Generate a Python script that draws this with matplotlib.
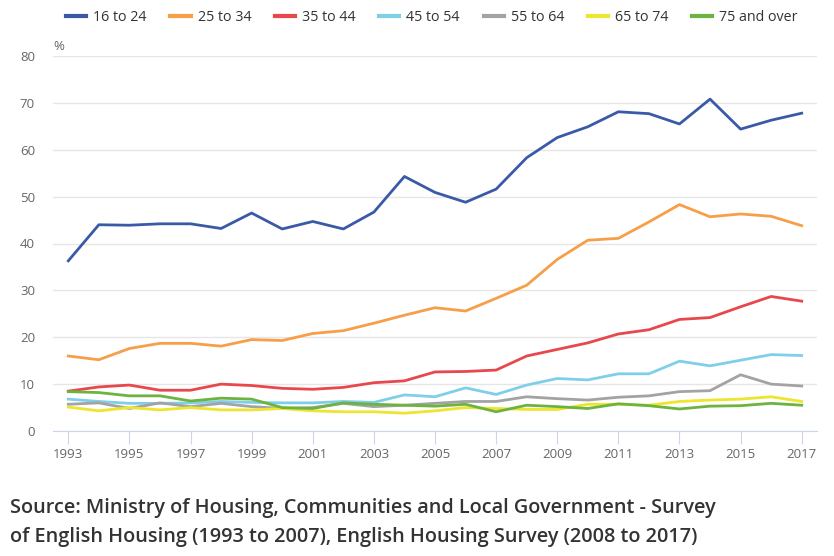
import matplotlib.pyplot as plt

plt.rcParams['font.family'] = ['Open Sans', 'DejaVu Sans']

years = list(range(1993, 2018))

# % of each age group renting privately
age_16_24 = [36.3, 44.0, 43.9, 44.2, 44.2, 43.2, 46.5, 43.1, 44.7, 43.1, 46.7, 54.3, 50.9,
             48.8, 51.6, 58.3, 62.6, 64.9, 68.1, 67.7, 65.5, 70.8, 64.4, 66.3, 67.8]
age_25_34 = [16.0, 15.2, 17.6, 18.7, 18.7, 18.1, 19.5, 19.3, 20.8, 21.4, 23.0, 24.7, 26.3,
             25.6, 28.3, 31.1, 36.6, 40.7, 41.1, 44.6, 48.3, 45.7, 46.3, 45.8, 43.8]
age_35_44 = [8.5, 9.4, 9.8, 8.7, 8.7, 10.0, 9.7, 9.1, 8.9, 9.3, 10.3, 10.7, 12.6,
             12.7, 13.0, 16.0, 17.4, 18.8, 20.7, 21.6, 23.8, 24.2, 26.5, 28.7, 27.7]
age_45_54 = [6.8, 6.3, 5.9, 5.9, 6.0, 6.3, 6.1, 6.0, 6.0, 6.3, 6.1, 7.7, 7.3,
             9.2, 7.8, 9.8, 11.2, 10.9, 12.2, 12.2, 14.9, 13.9, 15.1, 16.3, 16.1]
age_55_64 = [5.7, 6.0, 4.8, 6.0, 5.2, 5.9, 5.2, 4.8, 5.0, 5.9, 5.2, 5.5, 5.9,
             6.3, 6.3, 7.3, 6.9, 6.6, 7.2, 7.5, 8.4, 8.6, 12.0, 10.0, 9.6]
age_65_74 = [5.1, 4.3, 5.0, 4.5, 5.0, 4.5, 4.5, 4.8, 4.3, 4.1, 4.1, 3.8, 4.3,
             5.0, 4.8, 4.6, 4.6, 5.7, 5.7, 5.5, 6.3, 6.6, 6.8, 7.3, 6.3]
age_75_over = [8.4, 8.2, 7.5, 7.5, 6.4, 7.0, 6.8, 5.0, 4.8, 6.0, 5.7, 5.5, 5.3,
               5.7, 4.1, 5.5, 5.2, 4.8, 5.8, 5.4, 4.7, 5.3, 5.4, 5.9, 5.5]

series = [
    ('16 to 24', age_16_24, '#3a5aa8'),
    ('25 to 34', age_25_34, '#f79f48'),
    ('35 to 44', age_35_44, '#e8474c'),
    ('45 to 54', age_45_54, '#80cfe9'),
    ('55 to 64', age_55_64, '#a3a3a3'),
    ('65 to 74', age_65_74, '#ede52f'),
    ('75 and over', age_75_over, '#6db33f'),
]

fig = plt.figure(figsize=(8.34, 5.56), dpi=100)
ax = fig.add_axes([53 / 834, 1 - 431 / 556, 764 / 834, 375 / 556])

for name, vals, col in series:
    ax.plot(years, vals, color=col, lw=2, label=name, solid_joinstyle='round')

ax.set_xlim(1992.5, 2017.5)
ax.set_ylim(0, 80)
ax.set_yticks(range(0, 81, 10))
ax.set_xticks(range(1993, 2018, 2))
ax.grid(axis='y', color='#e6e6e6', lw=1)
ax.set_axisbelow(True)
for s in ['top', 'right', 'left']:
    ax.spines[s].set_visible(False)
ax.spines['bottom'].set_color('#ccd6eb')
ax.tick_params(axis='y', length=0, pad=13, labelsize=9.5, labelcolor='#666666')
ax.tick_params(axis='x', length=9, color='#ccd6eb', pad=3, labelsize=9.5, labelcolor='#666666')

ax.text(0.0, 1.025, '%', transform=ax.transAxes, fontsize=9.5, color='#666666', va='center')

fig.legend(loc='upper center', bbox_to_anchor=(0.518, 1.005), ncol=7, frameon=False,
           fontsize=10.3, handlelength=1.4, handletextpad=0.5, columnspacing=1.65,
           labelcolor='#333333')
for line in fig.legends[0].get_lines():
    line.set_linewidth(3)

fig.text(0.012, 1 - 508 / 556, 'Source: Ministry of Housing, Communities and Local Government - Survey',
         fontsize=14.3, fontweight='semibold', color='#333333', va='center')
fig.text(0.012, 1 - 537 / 556, 'of English Housing (1993 to 2007), English Housing Survey (2008 to 2017)',
         fontsize=14.3, fontweight='semibold', color='#333333', va='center')

fig.savefig('out.png', dpi=100)
